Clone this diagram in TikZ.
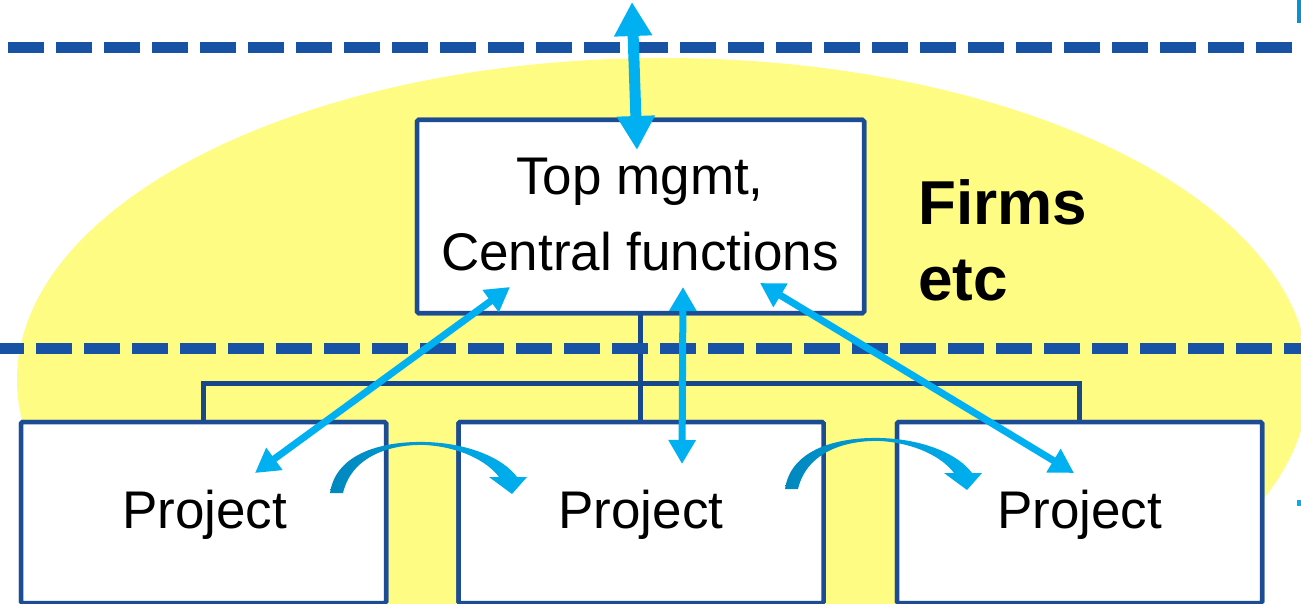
\documentclass[tikz,border=0pt]{standalone}
\usepackage{fontspec}
\setmainfont{Liberation Sans}
\usetikzlibrary{arrows.meta,calc}
\definecolor{ellyellow}{RGB}{255,252,132}
\definecolor{dashblue}{RGB}{23,82,165}
\definecolor{boxblue}{RGB}{28,76,148}
\definecolor{treeblue}{RGB}{24,72,140}
\definecolor{arrblue}{RGB}{0,176,240}
\definecolor{arrdark}{RGB}{0,136,190}
\definecolor{edgeblue}{RGB}{0,150,214}
\begin{document}
\begin{tikzpicture}[x=1pt,y=-1pt,
  boxstyle/.style={draw=boxblue,line width=4.5pt,fill=white,rounded corners=1.5pt,inner sep=0pt},
  projbox/.style={boxstyle,minimum width=365pt,minimum height=181pt},
  treeline/.style={draw=treeblue,line width=5pt},
  dashline/.style={draw=dashblue,line width=11pt,dash pattern=on 36pt off 12pt},
  arr/.style={draw=arrblue,line width=7pt,{Triangle[length=24pt,width=26pt]}-{Triangle[length=24pt,width=26pt]}},
  bigarr/.style={draw=arrblue,line width=11pt,{Triangle[length=34pt,width=36pt]}-{Triangle[length=34pt,width=36pt]}},
  txt/.style={inner sep=0pt,font=\fontsize{53}{75}\selectfont},
  bold/.style={inner sep=0pt,font=\fontsize{62}{75}\selectfont\bfseries},
  curvedarr/.pic={
    \shade[left color=arrdark,right color=arrblue]
      (330,493) .. controls (336,452) and (385,441) .. (425,442)
      .. controls (468,443) and (503,458) .. (517,477)
      -- (527,477) -- (512,494) -- (489,477) -- (499,477)
      .. controls (487,461) and (460,447) .. (425,445)
      .. controls (392,444) and (352,455) .. (343,493) -- cycle;
  }
]
\useasboundingbox (0,0) rectangle (1301,604);
\clip (0,0) rectangle (1301,604);

% background ellipse
\fill[ellyellow] (663,380) ellipse [x radius=646, y radius=322];

% nodes
\node[boxstyle,minimum width=447pt,minimum height=193pt] (top) at (640.5,216.5) {};
\node[projbox] (p1) at (203.5,512.5) {};
\node[projbox] (p2) at (641,512.5) {};
\node[projbox] (p3) at (1079.5,512.5) {};

% tree connectors
\coordinate (tj) at (640,383.5);
\draw[treeline] (top.south -| tj) -- (tj);
\draw[treeline] (p1.north) |- (p3.north |- tj) -- (p3.north);
\draw[treeline] (tj) -- (p2.north -| tj);

% redraw boxes over tree ends
\node[projbox] at (p1) {};
\node[projbox] at (p2) {};
\node[projbox] at (p3) {};
\node[boxstyle,minimum width=447pt,minimum height=193pt] at (top) {};

% texts
\node[txt,anchor=base] (t1) at (640,195) {Top mgmt,};
\node[txt,anchor=base] (t2) at (640,270) {Central functions};
\node[txt,anchor=base] (pt1) at (204.5,528) {Project};
\node[txt,anchor=base] (pt2) at (641,528) {Project};
\node[txt,anchor=base] (pt3) at (1079.5,528) {Project};
\node[bold,anchor=base west] (f1) at (918,225) {Firms};
\node[bold,anchor=base west] (f2) at (918,300) {etc};

% dashed boundaries
\draw[dashline] (8,48) -- (1310,48);
\draw[dashline] (-12,348) -- (1310,348);

% arrow end points
\coordinate (outer) at (632,2);
\coordinate (a1) at (637,150);
\coordinate (a2s) at (510,287);
\coordinate (a2e) at (255,473);
\coordinate (a3s) at (683,287);
\coordinate (a3e) at (682,464);
\coordinate (a4s) at (760,283);
\coordinate (a4e) at (1074,473);

\draw[bigarr] (outer) -- (a1);
\draw[arr] (a2s) -- (a2e);
\draw[arr] (a3s) -- (a3e);
\draw[arr] (a4s) -- (a4e);

% curved arrows between projects
\pic (c1) at (0,0) {curvedarr};
\pic (c2) at (455,-4) {curvedarr};

% fragments at the right edge
\fill[edgeblue] (1297,0) rectangle (1301,23);
\fill[arrblue] (1297,500) rectangle (1301,506);
\end{tikzpicture}
\end{document}
